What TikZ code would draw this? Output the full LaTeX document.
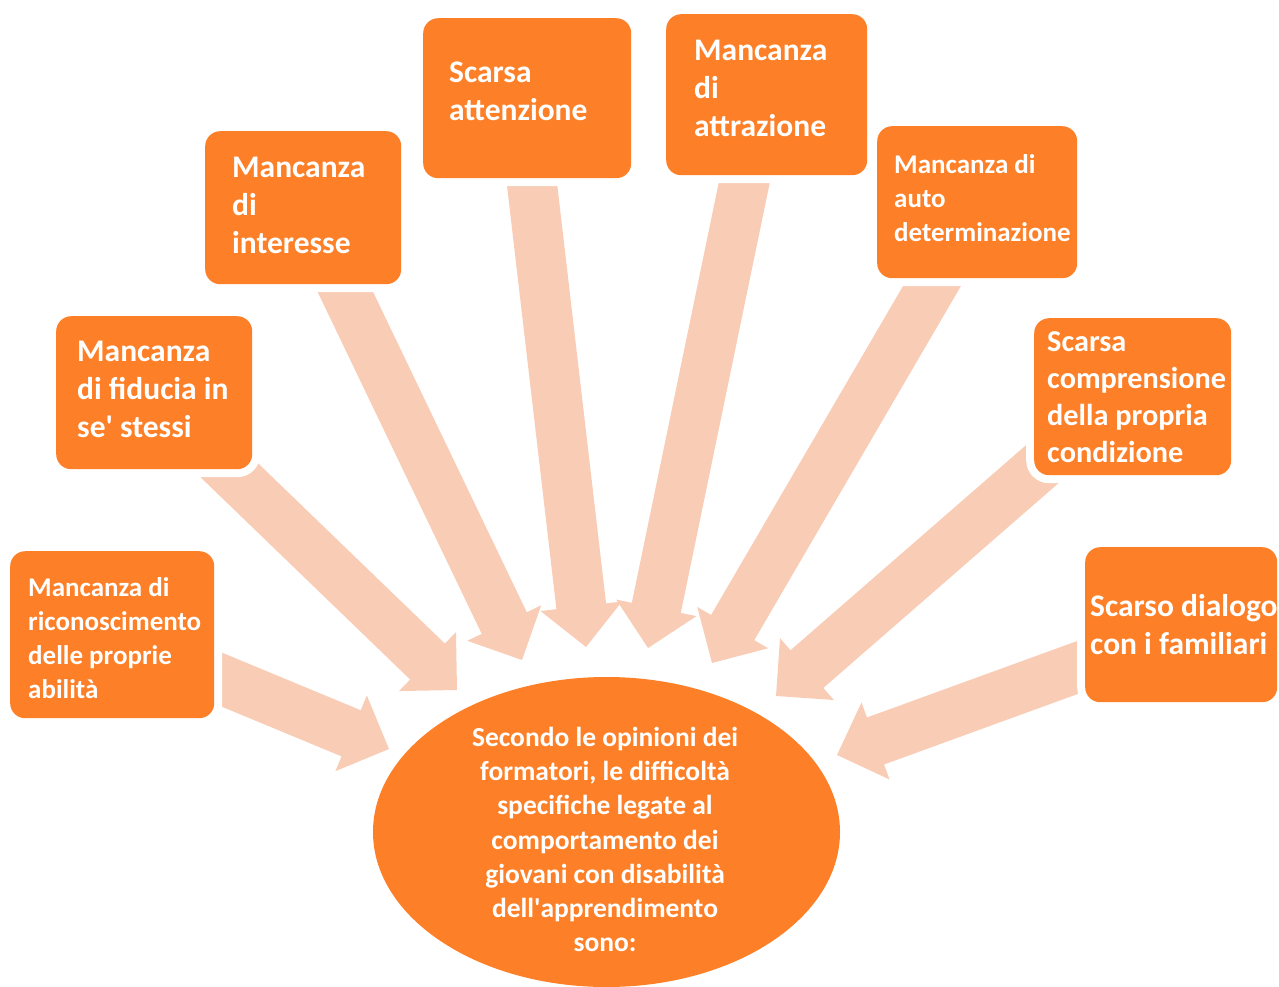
\documentclass[tikz,border=0pt]{standalone}
\usepackage{fontspec}
\setmainfont{Carlito}
\usetikzlibrary{calc,shapes.geometric}
\definecolor{boxorange}{RGB}{253,127,39}
\definecolor{peach}{RGB}{249,204,181}
\newcommand\fl{\rule{0pt}{0.85em}}
\newcommand\blockarrow[2]{%
  \coordinate (hb) at ($(#2)!41pt!(#1)$);
  \fill[peach] ($(#1)!25pt!90:(#2)$) -- ($(hb)!25pt!90:(#2)$) -- ($(hb)!41pt!90:(#2)$) -- (#2)
     -- ($(hb)!41pt!-90:(#2)$) -- ($(hb)!25pt!-90:(#2)$) -- ($(#1)!25pt!-90:(#2)$) -- cycle;
}
\tikzset{
  box/.style={fill=boxorange, rounded corners=15pt, inner sep=0pt, anchor=north west,
    preaction={draw=white, line width=16pt}},
  smalltext/.style={anchor=north west, inner sep=0pt, text=white, align=left,
    font={\fontsize{27}{34}\selectfont\bfseries}},
  bigtext/.style={anchor=north west, inner sep=0pt, text=white, align=left,
    font={\fontsize{31.5}{38}\selectfont\bfseries}},
}
\begin{document}
\begin{tikzpicture}[x=1pt,y=-1pt]
\useasboundingbox (0,0) rectangle (1279,987);
% arrow tails and tips
\coordinate (tailA) at (160,654);  \coordinate (tipA) at (389,749);
\coordinate (tailB) at (200,442);  \coordinate (tipB) at (457,690);
\coordinate (tailC) at (330,260);  \coordinate (tipC) at (522,660);
\coordinate (tailD) at (528,150);  \coordinate (tipD) at (586,647);
\coordinate (tailE) at (751,150);  \coordinate (tipE) at (648,648);
\coordinate (tailF) at (953,250);  \coordinate (tipF) at (712,663);
\coordinate (tailG) at (1070,440); \coordinate (tipG) at (776,696);
\coordinate (tailH) at (1120,652); \coordinate (tipH) at (837,755);
\blockarrow{tailA}{tipA}
\blockarrow{tailB}{tipB}
\blockarrow{tailC}{tipC}
\blockarrow{tailD}{tipD}
\blockarrow{tailE}{tipE}
\blockarrow{tailF}{tipF}
\blockarrow{tailG}{tipG}
\blockarrow{tailH}{tipH}
% boxes
\node[box, minimum width=204pt, minimum height=167pt] (bA) at (10,551) {};
\node[box, minimum width=196pt, minimum height=153pt] (bB) at (56,316) {};
\node[box, minimum width=196pt, minimum height=153pt] (bC) at (205,131) {};
\node[box, minimum width=208pt, minimum height=160pt] (bD) at (423,18) {};
\node[box, minimum width=201pt, minimum height=161pt] (bE) at (666,14) {};
\node[box, minimum width=200pt, minimum height=152pt] (bF) at (877,126) {};
\node[box, minimum width=197pt, minimum height=157pt] (bG) at (1034,318) {};
\node[box, minimum width=192pt, minimum height=155pt] (bH) at (1085,547) {};
% texts
\node[smalltext] (xA) at (28,573) {\fl Mancanza di\\riconoscimento\\delle proprie\\abilità};
\node[bigtext] (xB) at (77,334.2) {\fl Mancanza\\di fiducia in\\se\textquotesingle{} stessi};
\node[bigtext] (xC) at (232,150.2) {\fl Mancanza\\di\\interesse};
\node[bigtext] (xD) at (449,55.9) {\fl Scarsa\\attenzione};
\node[bigtext] (xE) at (694,33.9) {\fl Mancanza\\di\\attrazione};
\node[smalltext] (xF) at (894,150) {\fl Mancanza di\\auto\\determinazione};
\node[bigtext, font={\fontsize{30.3}{37}\selectfont\bfseries}] (xG) at (1047,325.2) {\fl Scarsa\\comprensione\\della propria\\condizione};
\node[bigtext] (xH) at (1090,589.2) {\fl Scarso dialogo\\con i familiari};
% ellipse
\node[ellipse, fill=boxorange, minimum width=467pt, minimum height=310pt, inner sep=0pt] (ell) at (606.5,832) {};
\node[smalltext, anchor=north, align=center, font={\fontsize{27.5}{34.3}\selectfont\bfseries}] (xell) at (605,722.6)
  {\fl Secondo le opinioni dei\\formatori, le difficoltà\\specifiche legate al\\comportamento dei\\giovani con disabilità\\dell\textquotesingle{}apprendimento\\sono:};
\end{tikzpicture}
\end{document}
